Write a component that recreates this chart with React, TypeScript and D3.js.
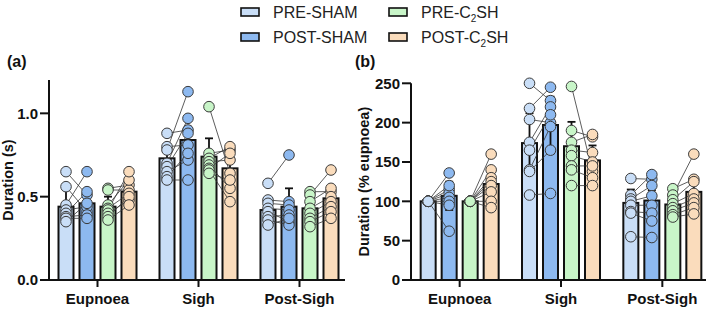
import React from "react";
import * as d3 from "d3";

const categories = ["Eupnoea", "Sigh", "Post-Sigh"];
const seriesKeys = ["PRE-SHAM", "POST-SHAM", "PRE-C2SH", "POST-C2SH"];
const seriesColors = ["#c9def7", "#8db9f0", "#c8f5c8", "#fadcbc"];

// Panel (a): duration (s), per category, 8 animals
const durPreSham = [
  [0.65, 0.56, 0.45, 0.42, 0.40, 0.38, 0.37, 0.35],
  [0.88, 0.80, 0.78, 0.70, 0.68, 0.65, 0.62, 0.60],
  [0.58, 0.48, 0.46, 0.43, 0.41, 0.38, 0.36, 0.33],
];
const durPostSham = [
  [0.51, 0.41, 0.65, 0.44, 0.53, 0.39, 0.37, 0.46],
  [0.90, 0.81, 1.13, 0.97, 0.88, 0.72, 0.76, 0.60],
  [0.75, 0.47, 0.45, 0.42, 0.35, 0.39, 0.33, 0.37],
];
const durPreC2 = [
  [0.55, 0.54, 0.45, 0.43, 0.42, 0.40, 0.38, 0.36],
  [1.04, 0.76, 0.73, 0.71, 0.69, 0.67, 0.66, 0.64],
  [0.53, 0.51, 0.47, 0.43, 0.40, 0.37, 0.35, 0.32],
];
const durPostC2 = [
  [0.57, 0.54, 0.60, 0.52, 0.65, 0.48, 0.50, 0.45],
  [0.64, 0.78, 0.80, 0.72, 0.55, 0.76, 0.47, 0.60],
  [0.53, 0.66, 0.55, 0.50, 0.47, 0.44, 0.41, 0.37],
];
const durMeans = [
  [0.44, 0.46, 0.44, 0.53],
  [0.73, 0.84, 0.74, 0.67],
  [0.42, 0.44, 0.43, 0.49],
];
const durErrs = [
  [0.10, 0.07, 0.06, 0.04],
  [0.08, 0.08, 0.11, 0.09],
  [0.05, 0.11, 0.05, 0.05],
];
const durTicks = [0, 0.5, 1.0];

// Panel (b): duration (% eupnoea)
const pctPreSham = [
  [100, 100, 100, 100, 100, 100, 100, 100],
  [250, 218, 204, 175, 165, 140, 138, 108],
  [129, 108, 103, 100, 95, 87, 85, 55],
];
const pctPostSham = [
  [115, 136, 62, 110, 120, 105, 100, 95],
  [228, 245, 200, 220, 210, 195, 165, 110],
  [128, 134, 120, 107, 95, 85, 75, 54],
];
const pctPreC2 = [
  [100, 100, 100, 100, 100, 100, 100, 100],
  [246, 190, 175, 165, 158, 145, 140, 120],
  [116, 108, 102, 97, 92, 88, 83, 80],
];
const pctPostC2 = [
  [160, 140, 130, 125, 120, 112, 100, 92],
  [138, 182, 185, 162, 150, 145, 130, 120],
  [128, 160, 125, 110, 103, 98, 92, 84],
];
const pctMeans = [
  [100, 107, 100, 122],
  [174, 197, 170, 152],
  [98, 101, 96, 112],
];
const pctErrs = [
  [0, 18, 0, 9],
  [38, 36, 31, 19],
  [17, 13, 9, 19],
];
const pctTicks = [0, 50, 100, 150, 200, 250];

const FONT = "'Liberation Sans', Arial, Helvetica, sans-serif";

type PanelProps = {
  x0: number;
  x1: number;
  axisEnd: number;
  yMax: number;
  yTop: number;
  ticks: number[];
  tickFmt: (v: number) => string;
  points: number[][][]; // series -> category -> animals
  means: number[][];
  errs: number[][];
  title: string;
  titleX: number;
  label: string;
  labelX: number;
};

function Panel(p: PanelProps) {
  const axisX = p.x0 + 2;
  const y0 = 280;
  const y = d3.scaleLinear().domain([0, p.yMax]).range([y0, p.yTop]);
  const xCat = d3.scaleBand().domain(categories).range([p.x0, p.x1]);
  const xSer = d3.scaleBand().domain(seriesKeys).range([-42, 42]);
  const barW = 15;
  const cx = (ci: number, si: number) =>
    (xCat(categories[ci]) as number) + xCat.bandwidth() / 2 + (xSer(seriesKeys[si]) as number) + xSer.bandwidth() / 2;

  const bars: any[] = [];
  const lines: any[] = [];
  const dots: any[] = [];
  const errs: any[] = [];
  categories.forEach((c, ci) => {
    seriesKeys.forEach((s, si) => {
      const m = p.means[ci][si];
      const x = cx(ci, si);
      bars.push(
        <rect key={`b${ci}${si}`} x={x - barW / 2} y={y(m)} width={barW} height={y0 - y(m)}
          fill={seriesColors[si]} stroke="#111" strokeWidth={2} />
      );
      const e = p.errs[ci][si];
      if (e > 0) {
        errs.push(
          <g key={`e${ci}${si}`} stroke="#111" strokeWidth={1.8}>
            <line x1={x} x2={x} y1={y(m - e)} y2={y(m + e)} />
            <line x1={x - 4} x2={x + 4} y1={y(m + e)} y2={y(m + e)} />
            <line x1={x - 4} x2={x + 4} y1={y(m - e)} y2={y(m - e)} />
          </g>
        );
      }
    });
    // paired lines
    [0, 2].forEach((si) => {
      const pre = p.points[si][ci];
      const post = p.points[si + 1][ci];
      pre.forEach((v, i) => {
        lines.push(
          <line key={`l${ci}${si}${i}`} x1={cx(ci, si)} y1={y(v)} x2={cx(ci, si + 1)} y2={y(post[i])}
            stroke="#333" strokeWidth={0.8} />
        );
      });
    });
    seriesKeys.forEach((s, si) => {
      p.points[si][ci].forEach((v, i) => {
        dots.push(
          <circle key={`d${ci}${si}${i}`} cx={cx(ci, si)} cy={y(v)} r={5.3}
            fill={seriesColors[si]} stroke="#3a3a3a" strokeWidth={1} />
        );
      });
    });
  });

  return (
    <g fontFamily={FONT}>
      <text x={p.labelX} y={67} fontSize={16} fontWeight="bold" fill="#111">{p.label}</text>
      {bars}
      {errs}
      {lines}
      {dots}
      <line x1={axisX} x2={axisX} y1={p.yTop} y2={y0 + 1} stroke="#111" strokeWidth={2} />
      <line x1={axisX - 1} x2={p.axisEnd} y1={y0} y2={y0} stroke="#111" strokeWidth={2} />
      {p.ticks.map((t) => (
        <g key={`t${t}`}>
          <line x1={axisX - 9} x2={axisX} y1={y(t)} y2={y(t)} stroke="#111" strokeWidth={2} />
          <text x={axisX - 11} y={y(t)} dy="0.36em" textAnchor="end" fontSize={15} fontWeight="bold" fill="#111">
            {p.tickFmt(t)}
          </text>
        </g>
      ))}
      {categories.map((c) => {
        const x = (xCat(c) as number) + xCat.bandwidth() / 2;
        return (
          <g key={c}>
            <line x1={x} x2={x} y1={y0} y2={y0 + 7} stroke="#111" strokeWidth={2} />
            <text x={x} y={304} textAnchor="middle" fontSize={15} fontWeight="bold" fill="#111">{c}</text>
          </g>
        );
      })}
      <text transform={`translate(${p.titleX},${(y0 + p.yTop) / 2}) rotate(-90)`} textAnchor="middle"
        dy="0.36em" fontSize={14.5} fontWeight="bold" fill="#111">{p.title}</text>
    </g>
  );
}

function LegendLabel({ name }: { name: string }) {
  if (name.includes("C2SH")) {
    const [a] = name.split("C2SH");
    return (
      <>
        {a}C<tspan fontSize={10} dy={4}>2</tspan><tspan dy={-4}>SH</tspan>
      </>
    );
  }
  return <>{name}</>;
}

export default function App() {
  const legendPos = [
    { x: 241, y: 12 },
    { x: 241, y: 37 },
    { x: 389, y: 12 },
    { x: 389, y: 37 },
  ];
  return (
    <svg width={709} height={309} style={{ position: "absolute", left: 0, top: 0, background: "#fff" }}>
      <g fontFamily={FONT}>
        {seriesKeys.map((s, i) => (
          <g key={s}>
            <rect x={legendPos[i].x} y={legendPos[i].y - 4} width={18} height={8}
              fill={seriesColors[i]} stroke="#111" strokeWidth={1.6} />
            <text x={legendPos[i].x + 32} y={legendPos[i].y} dy="0.36em" fontSize={16} fill="#222">
              <LegendLabel name={s} />
            </text>
          </g>
        ))}
      </g>
      <Panel x0={47} x1={350} axisEnd={345} yMax={1.2} yTop={80} ticks={durTicks}
        tickFmt={(v) => v.toFixed(1)}
        points={[durPreSham, durPostSham, durPreC2, durPostC2]} means={durMeans} errs={durErrs}
        title="Duration (s)" titleX={8} label="(a)" labelX={7} />
      <Panel x0={409} x1={713} axisEnd={706} yMax={250} yTop={83.3} ticks={pctTicks}
        tickFmt={(v) => String(v)}
        points={[pctPreSham, pctPostSham, pctPreC2, pctPostC2]} means={pctMeans} errs={pctErrs}
        title="Duration (% eupnoea)" titleX={364} label="(b)" labelX={355} />
    </svg>
  );
}
